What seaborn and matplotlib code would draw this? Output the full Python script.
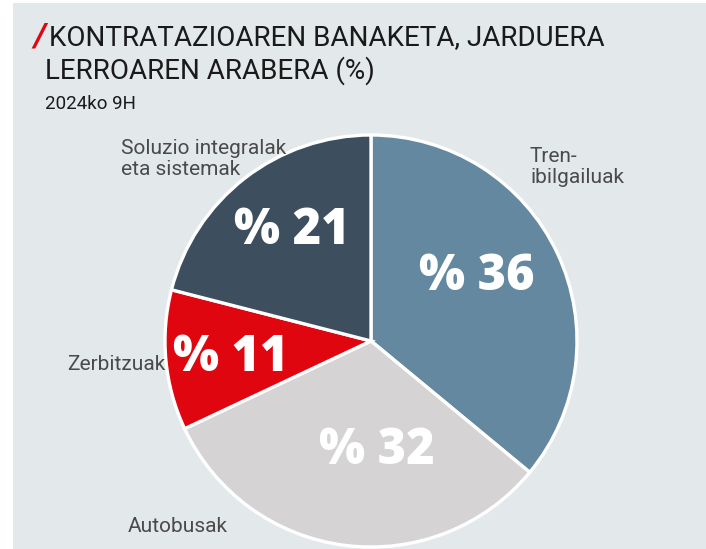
import matplotlib
matplotlib.use("Agg")
import matplotlib.pyplot as plt
import matplotlib.patches as patches
import seaborn as sns

# data
categories = ["Tren-ibilgailuak", "Autobusak", "Zerbitzuak", "Soluzio integralak eta sistemak"]
values = [36, 32, 11, 21]
outer_labels = ["Tren-\nibilgailuak", "Autobusak", "Zerbitzuak", "Soluzio integralak\neta sistemak"]
colors = ["#64889f", "#d5d3d4", "#e0060f", "#3d4f5f"]

title_lines = ["KONTRATAZIOAREN BANAKETA, JARDUERA", "LERROAREN ARABERA (%)"]
subtitle = "2024ko 9H"

sns.set_style("white")
plt.rcParams["font.family"] = ["Roboto", "DejaVu Sans"]

W, H = 706, 549
fig = plt.figure(figsize=(W / 100, H / 100), dpi=100)
fig.patch.set_facecolor("white")

# grey panel
fig.patches.append(patches.Rectangle((13 / W, 0), 1 - 13 / W, (H - 3) / H,
                                     transform=fig.transFigure, facecolor="#e3e8eb",
                                     edgecolor="none", zorder=0))

# pie axes: centre (371, 341) px from top, radius 206 px
cx, cy, r = 371, 341, 206
ax = fig.add_axes([(cx - r) / W, (H - cy - r) / H, 2 * r / W, 2 * r / H], zorder=2)
wedges, _ = ax.pie(values, colors=colors, startangle=90, counterclock=False,
                   wedgeprops=dict(edgecolor="white", linewidth=2.4))
for w in wedges:
    w.set_clip_on(False)
ax.set_xlim(-1, 1)
ax.set_ylim(-1, 1)
ax.set_aspect("equal")
ax.axis("off")

# percentage labels (pixel positions of label centres)
pct_pos = [(477, 277), (377, 451), (231, 358), (292, 231)]
for v, (px, py) in zip(values, pct_pos):
    fig.text(px / W, 1 - py / H, f"% {v}", ha="center", va="center", zorder=5,
             fontsize=35, fontweight="heavy", color="white", family=["Open Sans", "DejaVu Sans"])

# outside labels
lab_pos = [(530, 167, "left"), (128, 527, "left"), (165, 364, "right"), (121, 159, "left")]
for lab, (px, py, ha) in zip(outer_labels, lab_pos):
    fig.text(px / W, 1 - py / H, lab, ha=ha, va="center", fontsize=15, zorder=5,
             color="#4a4a4a", linespacing=1.1)

# title with red slash
fig.text(33 / W, 1 - 38 / H, "/", fontsize=24, fontweight="bold", color="#e0060f",
         ha="left", va="center", style="italic")
fig.text(49 / W, 1 - 38 / H, title_lines[0], fontsize=20, color="#1a1a1a", ha="left", va="center")
fig.text(45 / W, 1 - 71 / H, title_lines[1], fontsize=20, color="#1a1a1a", ha="left", va="center")
fig.text(45 / W, 1 - 104 / H, subtitle, fontsize=13.5, color="#1a1a1a", ha="left", va="center")

fig.savefig("out.png", dpi=100)
